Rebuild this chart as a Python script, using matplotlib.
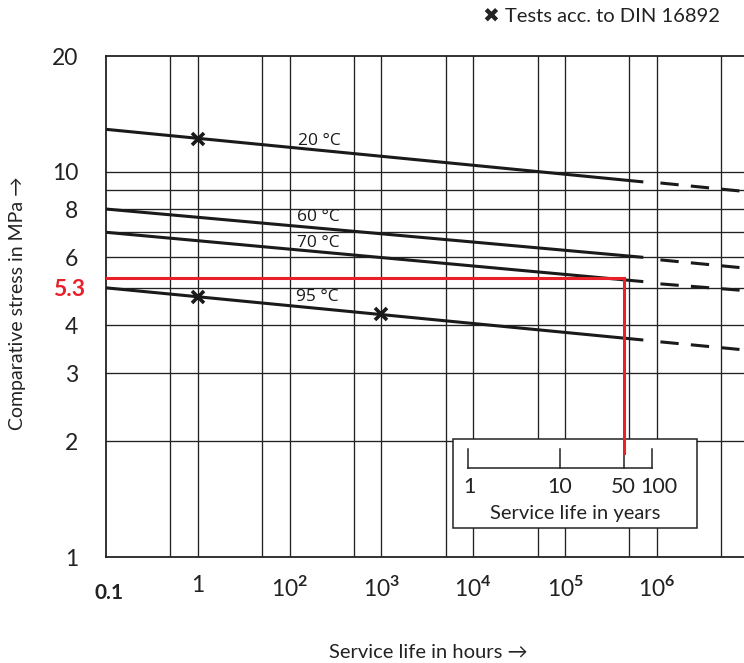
import numpy as np
import matplotlib
matplotlib.use('Agg')
import matplotlib.pyplot as plt
from matplotlib.patches import Rectangle
import matplotlib.transforms as mtransforms

plt.rcParams['font.family'] = ['Lato', 'DejaVu Sans']
plt.rcParams['mathtext.fontset'] = 'custom'
plt.rcParams['mathtext.rm'] = 'Lato'
plt.rcParams['mathtext.bf'] = 'Lato:bold'

# service life in hours, comparative stress in MPa
temps = ['20 °C', '60 °C', '70 °C', '95 °C']
solid_h = [1, 7.1e5]
solid_s = {'20 °C': [12.9, 9.42], '60 °C': [8.01, 6.00],
           '70 °C': [6.97, 5.19], '95 °C': [5.0, 3.66]}
dash_h = [1.09e6, 8.9e6]
dash_s = {'20 °C': [9.36, 8.90], '60 °C': [5.91, 5.63],
          '70 °C': [5.12, 4.92], '95 °C': [3.62, 3.45]}
label_pos = {'20 °C': (122, 12.0), '60 °C': (120, 7.64), '70 °C': (120, 6.55), '95 °C': (118, 4.74)}

test_h = [10, 10, 1000]
test_s = [12.2, 4.73, 4.28]

# design example: 5.3 MPa at 50 years
years = [1, 10, 50, 100]
h_per_year = 8760
design_s = 5.3
design_years = 50

xticks = [1, 10, 1e2, 1e3, 1e4, 1e5, 1e6]
xticklabels = ['0.1', '1', r'$10^{\mathbf{2}}$', r'$10^{\mathbf{3}}$', r'$10^{\mathbf{4}}$',
               r'$10^{\mathbf{5}}$', r'$10^{\mathbf{6}}$']
yticks = [1, 2, 3, 4, 5, 6, 8, 10, 20]
yticklabels = ['1', '2', '3', '4', '5.3', '6', '8', '10', '20']
grid_x = [5, 10, 50, 100, 500, 1e3, 5e3, 1e4, 5e4, 1e5, 5e5, 1e6, 5e6]
grid_y = [2, 3, 4, 5, 6, 7, 8, 9, 10]

fig = plt.figure(figsize=(7.44, 6.63), dpi=100)
ax = fig.add_axes([106/744, 1-557/663, 1-106/744, (557-56)/663])
ax.set_xscale('log')
ax.set_yscale('log')
ax.set_xlim(1, 10**(638/91.83))
ax.set_ylim(1, 20)

for gx in grid_x:
    ax.axvline(gx, color='#222222', lw=0.95, zorder=1)
for gy in grid_y:
    ax.axhline(gy, color='#222222', lw=0.95, zorder=1)

for t in temps:
    ax.plot(solid_h, solid_s[t], color='#1a1a1a', lw=2.2, solid_capstyle='butt', zorder=3)
    ax.plot(dash_h, dash_s[t], color='#1a1a1a', lw=2.2, dashes=(6, 4), zorder=3)
    ax.text(*label_pos[t], t, family=['Open Sans', 'DejaVu Sans'], fontsize=12.5,
            color='#1a1a1a', ha='left', va='center', zorder=4)

ax.plot(test_h, test_s, ls='none', marker='x', ms=8, mew=2.6, color='#1a1a1a', zorder=5)

# inset with service life in years
trans = mtransforms.blended_transform_factory(ax.transData, ax.transAxes)
box = Rectangle((0.544, 0.058), 0.382, 0.1775, transform=ax.transAxes,
                facecolor='white', edgecolor='#222222', lw=1.1, zorder=6)
ax.add_patch(box)
yh = [y * h_per_year for y in years]
ax.plot([yh[0], yh[-1]], [0.1776, 0.1776], transform=trans, color='#222222', lw=1.1, zorder=7)
for h in yh:
    ax.plot([h, h], [0.1776, 0.2156], transform=trans, color='#222222', lw=1.1, zorder=7)
lab_off = [1.03, 1.0, 0.98, 1.2]
for y, h, o in zip(years, yh, lab_off):
    ax.text(h * o, 0.14, str(y), transform=trans, ha='center', va='center',
            fontsize=15.5, color='#222222', zorder=8)
ax.text(0.735, 0.087, 'Service life in years', transform=ax.transAxes, ha='center',
        va='center', fontsize=14.5, color='#222222', zorder=8)

dh = design_years * h_per_year
ax.plot([1, dh, dh], [design_s, design_s, 1.864], color='#e8202a', lw=2.2, zorder=9,
        solid_joinstyle='miter')

for s in ['left', 'bottom', 'top']:
    ax.spines[s].set_linewidth(1.3)
    ax.spines[s].set_color('#222222')
ax.spines['right'].set_visible(False)

ax.set_xticks(xticks)
ax.set_xticklabels(xticklabels)
ax.set_yticks(yticks)
ax.set_yticklabels(yticklabels)
ax.minorticks_off()
ax.tick_params(axis='both', length=0, labelsize=16.5, colors='#222222')
ax.tick_params(axis='y', pad=20)
ax.tick_params(axis='x', pad=13)
for lbl in ax.get_yticklabels():
    if lbl.get_text() == '5.3':
        lbl.set_color('#e8202a')
        lbl.set_fontweight('bold')
        lbl.set_transform(lbl.get_transform() + mtransforms.ScaledTranslation(7/100, 0, fig.dpi_scale_trans))
xl = ax.get_xticklabels()
xl[0].set_fontweight('bold')
xl[0].set_fontsize(15)
xl[0].set_transform(xl[0].get_transform() + mtransforms.ScaledTranslation(3/100, -8/100, fig.dpi_scale_trans))

fig.text(18/744, 1-303/663, 'Comparative stress in MPa →', rotation=90, ha='center',
         va='center', fontsize=14, color='#222222')
fig.text(428/744, 1-652/663, 'Service life in hours →', ha='center', va='center',
         fontsize=14.5, color='#222222')
fig.text(720/744, 1-17/663, '✖ Tests acc. to DIN 16892', ha='right', va='center',
         fontsize=14.5, color='#222222')

fig.savefig('out.png', dpi=100)
